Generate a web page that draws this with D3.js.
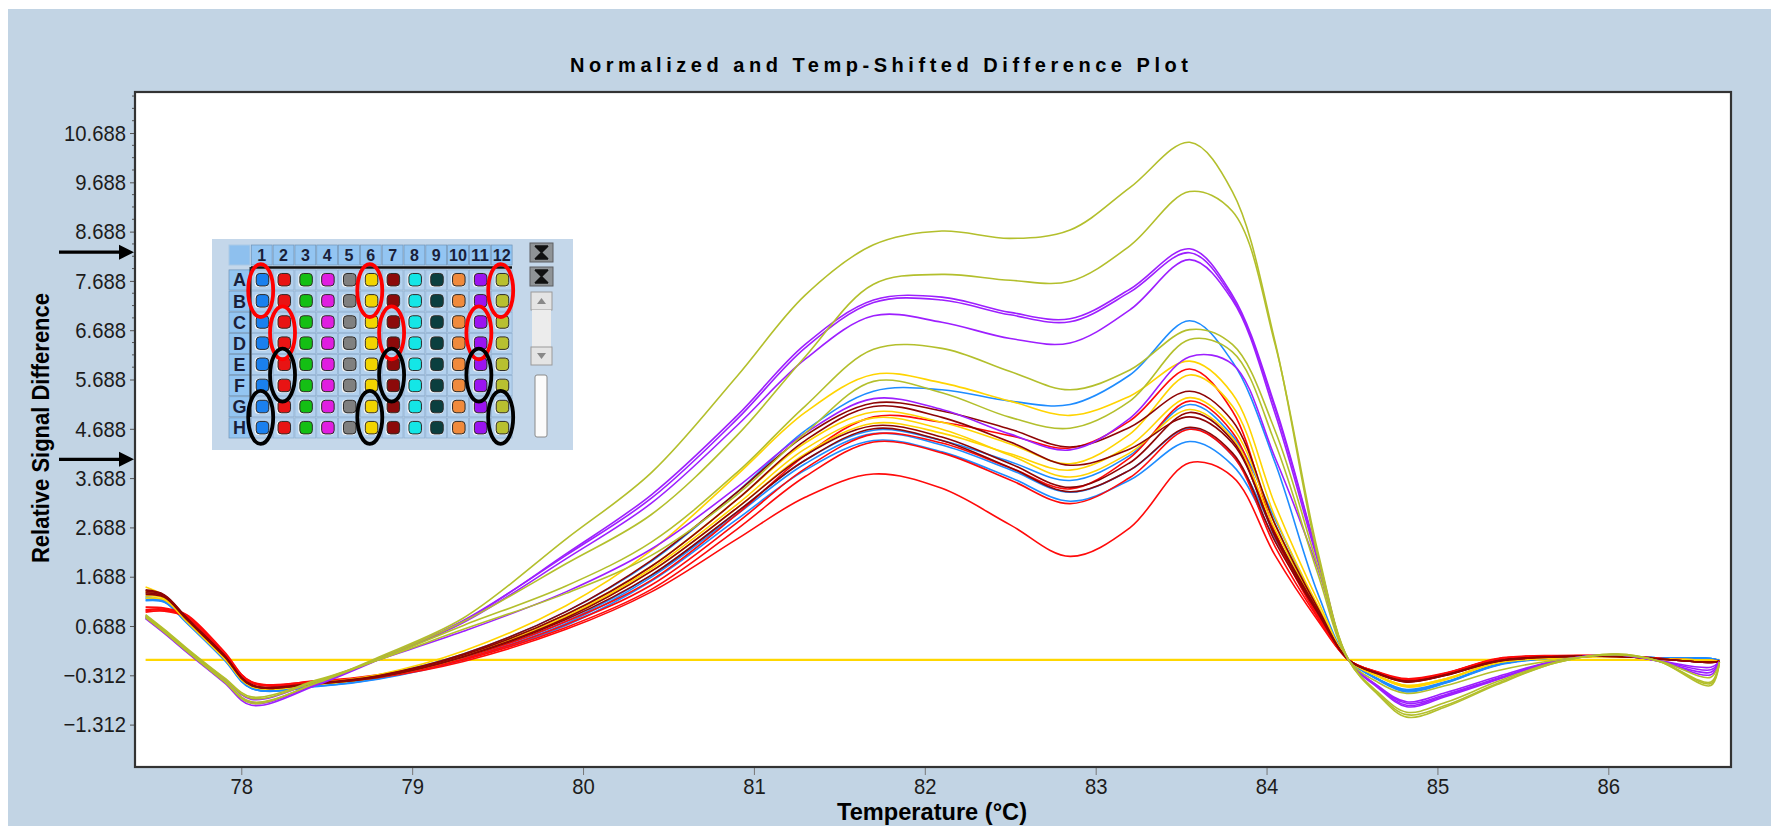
<!DOCTYPE html>
<html><head><meta charset="utf-8">
<script src="https://cdn.jsdelivr.net/npm/d3@7"></script>
<style>
html,body{margin:0;padding:0;background:#fff;}
svg{display:block;}
text{font-family:"Liberation Sans",Arial,Helvetica,sans-serif;}
</style></head><body>
<svg id="chart" width="1771" height="826"></svg>
<script>
// ---------------- DATA ----------------
const temperatureC = [77.44,77.55,77.68,77.9,78.06,78.45,78.8,79.3,79.9,80.4,80.9,81.3,81.7,82.1,82.5,82.85,83.2,83.55,83.8,84.05,84.3,84.48,84.65,84.82,85.05,85.35,85.7,86.05,86.3,86.6,86.65];

// Column 1 (blue) wells A1,B1,G1,H1
const wellA1 = [1.28,1.20,0.78,0.03,-0.56,-0.50,-0.32,0.12,0.98,2.00,3.40,4.65,5.45,5.48,5.25,5.18,5.78,6.88,6.05,4.00,1.35,0.0,-0.38,-0.62,-0.45,-0.10,0.05,0.08,0.04,0.03,-0.01];
const wellB1 = [1.25,1.19,0.77,0.02,-0.57,-0.52,-0.37,0.04,0.78,1.72,3.00,4.05,4.66,4.45,4.02,3.64,4.15,5.18,4.55,2.85,1.05,0.0,-0.38,-0.60,-0.44,-0.09,0.05,0.08,0.04,0.03,-0.01];
const wellG1 = [1.22,1.18,0.76,0.01,-0.58,-0.53,-0.38,0.02,0.74,1.68,2.95,3.98,4.59,4.36,3.86,3.40,3.85,4.70,4.15,2.55,0.98,0.0,-0.39,-0.63,-0.46,-0.10,0.05,0.08,0.04,0.03,-0.01];
const wellH1 = [1.20,1.17,0.75,0.00,-0.58,-0.54,-0.39,0.00,0.70,1.60,2.85,3.85,4.45,4.22,3.70,3.22,3.65,4.43,3.95,2.45,0.95,0.0,-0.40,-0.65,-0.47,-0.11,0.04,0.08,0.04,0.03,-0.01];
// Column 2 (red) wells C2,D2,E2,F2
const wellC2 = [1.07,1.05,0.92,0.17,-0.45,-0.42,-0.30,0.05,0.78,1.62,2.95,4.15,4.93,4.82,4.55,4.30,4.85,5.90,5.05,2.60,0.92,0.0,-0.24,-0.38,-0.26,0.03,0.09,0.08,0.03,-0.01,-0.02];
const wellD2 = [1.02,1.03,0.90,0.14,-0.44,-0.43,-0.32,0.02,0.72,1.52,2.78,3.88,4.58,4.40,3.90,3.47,4.10,5.25,4.62,2.50,0.88,0.0,-0.25,-0.40,-0.27,0.02,0.08,0.08,0.03,-0.02,-0.02];
const wellE2 = [1.00,1.01,0.88,0.12,-0.46,-0.45,-0.34,0.00,0.66,1.43,2.65,3.72,4.42,4.20,3.65,3.17,3.70,4.68,4.15,2.30,0.85,0.0,-0.26,-0.42,-0.28,0.01,0.08,0.07,0.03,-0.02,-0.02];
const wellF2 = [0.97,0.99,0.86,0.10,-0.47,-0.46,-0.36,-0.03,0.62,1.38,2.45,3.30,3.77,3.48,2.74,2.10,2.68,4.00,3.72,2.12,0.80,0.0,-0.25,-0.41,-0.27,0.02,0.08,0.08,0.03,-0.02,-0.02];
// Column 6 (yellow) wells A6,B6,G6,H6
const wellA6 = [1.48,1.30,0.82,0.06,-0.52,-0.46,-0.30,0.18,1.10,2.22,3.75,5.02,5.79,5.62,5.25,4.96,5.35,6.06,5.40,3.15,1.20,0.0,-0.32,-0.52,-0.38,-0.05,0.05,0.07,0.02,-0.01,-0.03];
const wellB6 = [1.38,1.28,0.80,0.05,-0.53,-0.48,-0.33,0.10,0.92,1.90,3.25,4.40,5.03,4.82,4.38,3.98,4.58,5.78,5.15,2.90,1.10,0.0,-0.32,-0.52,-0.38,-0.05,0.05,0.07,0.02,-0.01,-0.03];
const wellG6 = [1.30,1.25,0.79,0.04,-0.54,-0.49,-0.34,0.08,0.88,1.85,3.15,4.28,4.91,4.68,4.15,3.71,4.20,5.08,4.50,2.65,1.02,0.0,-0.33,-0.54,-0.39,-0.06,0.04,0.07,0.02,-0.01,-0.03];
const wellH6 = [1.25,1.22,0.78,0.03,-0.54,-0.49,-0.35,0.06,0.85,1.80,3.08,4.18,4.80,4.60,4.18,3.85,4.35,5.32,4.72,2.75,1.05,0.0,-0.33,-0.55,-0.40,-0.06,0.04,0.07,0.02,-0.01,-0.03];
// Column 7 (dark red) wells C7,D7,E7,F7
const wellC7 = [1.42,1.32,0.86,0.10,-0.50,-0.46,-0.32,0.12,0.98,2.02,3.40,4.55,5.21,5.05,4.68,4.32,4.72,5.45,4.85,2.75,1.05,0.0,-0.27,-0.43,-0.30,-0.02,0.07,0.07,0.02,-0.05,-0.03];
const wellD7 = [1.40,1.31,0.85,0.09,-0.51,-0.47,-0.33,0.10,0.92,1.90,3.25,4.45,5.14,4.92,4.42,3.95,4.28,4.93,4.40,2.55,1.00,0.0,-0.27,-0.44,-0.30,-0.02,0.07,0.07,0.02,-0.05,-0.03];
const wellE7 = [1.36,1.29,0.83,0.08,-0.52,-0.48,-0.35,0.06,0.82,1.72,3.00,4.05,4.69,4.45,3.90,3.41,3.85,4.72,4.20,2.40,0.95,0.0,-0.28,-0.45,-0.31,-0.03,0.06,0.07,0.02,-0.05,-0.03];
const wellF7 = [1.33,1.27,0.82,0.07,-0.52,-0.48,-0.35,0.07,0.85,1.80,3.08,4.15,4.75,4.52,3.98,3.50,4.00,5.02,4.45,2.50,0.98,0.0,-0.28,-0.44,-0.31,-0.03,0.06,0.07,0.02,-0.05,-0.03];
// Column 11 (purple) wells C11,D11,E11,F11
const wellC11 = [0.84,0.54,0.16,-0.46,-0.92,-0.50,0.00,0.78,2.15,3.35,4.95,6.40,7.30,7.36,7.05,6.92,7.52,8.34,7.40,5.15,2.10,0.0,-0.56,-0.95,-0.74,-0.40,-0.02,0.11,-0.03,-0.30,-0.04];
const wellD11 = [0.85,0.55,0.17,-0.44,-0.88,-0.48,0.02,0.80,2.12,3.28,4.88,6.33,7.25,7.30,7.00,6.86,7.46,8.26,7.35,5.10,2.08,0.0,-0.54,-0.92,-0.72,-0.39,-0.02,0.11,-0.03,-0.25,-0.04];
const wellE11 = [0.87,0.57,0.19,-0.42,-0.86,-0.47,0.02,0.76,2.05,3.18,4.75,6.10,6.98,6.85,6.52,6.43,7.10,8.12,7.30,5.00,2.00,0.0,-0.53,-0.88,-0.70,-0.37,-0.02,0.10,-0.02,-0.20,-0.04];
const wellF11 = [0.90,0.60,0.22,-0.38,-0.80,-0.42,0.00,0.58,1.38,2.25,3.50,4.60,5.30,5.08,4.58,4.26,4.90,6.15,6.00,4.10,1.85,0.0,-0.52,-0.85,-0.66,-0.34,-0.01,0.10,-0.02,-0.15,-0.04];
// Column 12 (olive) wells A12,B12,G12,H12
const wellA12 = [0.86,0.56,0.18,-0.44,-0.88,-0.45,0.05,0.85,2.45,3.80,5.75,7.40,8.42,8.70,8.55,8.72,9.58,10.50,9.50,6.45,2.10,0.0,-0.70,-1.16,-0.95,-0.50,-0.05,0.12,-0.03,-0.52,-0.05];
const wellB12 = [0.88,0.58,0.20,-0.42,-0.85,-0.46,0.02,0.78,1.95,2.95,4.55,6.15,7.62,7.82,7.70,7.68,8.40,9.50,9.10,6.40,2.20,0.0,-0.68,-1.11,-0.92,-0.48,-0.05,0.12,-0.03,-0.48,-0.05];
const wellG12 = [0.90,0.60,0.22,-0.38,-0.78,-0.42,0.00,0.70,1.50,2.39,3.80,5.15,6.30,6.32,5.85,5.48,5.88,6.70,6.40,4.65,1.90,0.0,-0.65,-1.06,-0.86,-0.44,-0.04,0.11,-0.03,-0.45,-0.05];
const wellH12 = [0.92,0.62,0.24,-0.36,-0.75,-0.40,0.00,0.62,1.35,2.12,3.35,4.60,5.65,5.42,4.92,4.70,5.25,6.50,6.25,4.40,1.75,0.0,-0.45,-0.68,-0.52,-0.22,0.00,0.10,-0.02,-0.35,-0.05];

const seriesNames = ["A1","B1","G1","H1","C2","D2","E2","F2","A6","B6","G6","H6","C7","D7","E7","F7","C11","D11","E11","F11","A12","B12","G12","H12"];
const seriesValues = [wellA1,wellB1,wellG1,wellH1,wellC2,wellD2,wellE2,wellF2,wellA6,wellB6,wellG6,wellH6,wellC7,wellD7,wellE7,wellF7,wellC11,wellD11,wellE11,wellF11,wellA12,wellB12,wellG12,wellH12];

const xTickValues = [78,79,80,81,82,83,84,85,86];
const yTickValues = [-1.312,-0.312,0.688,1.688,2.688,3.688,4.688,5.688,6.688,7.688,8.688,9.688,10.688];
const arrowLevels = [8.27, 4.07];

const plateRows = ["A","B","C","D","E","F","G","H"];
const plateCols = ["1","2","3","4","5","6","7","8","9","10","11","12"];
const columnColors = ["#1a80ee","#e81414","#14bf14","#e01ee0","#808080","#f2d400","#8c0a0a","#14e6e6","#0b3f3f","#f08a3c","#9b14f0","#b8c030"];
const redCircles = [["1","AB"],["2","CD"],["6","AB"],["7","CD"],["11","CD"],["12","AB"]];
const blackCircles = [["2","EF"],["1","GH"],["7","EF"],["6","GH"],["11","EF"],["12","GH"]];

// ---------------- STYLE / LAYOUT ----------------
const lineColors = {"1":"#1e8cff","2":"#ff0a0a","6":"#ffd400","7":"#8e0505","11":"#9d1fff","12":"#b3bf2c"};
const W = 1771, H = 826;
const P = {left:135, right:1731, top:92, bottom:767};

const svg = d3.select("#chart");
svg.append("rect").attr("x",0).attr("y",0).attr("width",W).attr("height",H).attr("fill","#ffffff");
svg.append("rect").attr("x",8).attr("y",9).attr("width",W-8).attr("height",H-9).attr("fill","#c2d4e4");
svg.append("rect").attr("x",P.left).attr("y",P.top).attr("width",P.right-P.left).attr("height",P.bottom-P.top).attr("fill","#ffffff");

const x = d3.scaleLinear().domain([77.378, 86.718]).range([P.left, P.right]);
const y = d3.scaleLinear().domain([-2.172, 11.52]).range([P.bottom, P.top]);

svg.append("defs").append("clipPath").attr("id","plotclip")
  .append("rect").attr("x",P.left).attr("y",P.top).attr("width",P.right-P.left).attr("height",P.bottom-P.top);

const plot = svg.append("g").attr("clip-path","url(#plotclip)");

// zero line
plot.append("line")
  .attr("x1",x(temperatureC[0])).attr("x2",x(temperatureC[temperatureC.length-1]))
  .attr("y1",y(0)).attr("y2",y(0))
  .attr("stroke","#ffd700").attr("stroke-width",2.4);

const line = d3.line().x((d,i)=>x(temperatureC[i])).y(d=>y(d)).curve(d3.curveCatmullRom.alpha(0.5));
seriesValues.forEach((vals,k)=>{
  const col = seriesNames[k].slice(1);
  plot.append("path").attr("d",line(vals)).attr("fill","none")
    .attr("stroke",lineColors[col]).attr("stroke-width",1.6).attr("stroke-linejoin","round");
});

// axes
function squeeze(sel, f){
  sel.each(function(){ const w=this.getComputedTextLength(); d3.select(this).attr("textLength",w*f).attr("lengthAdjust","spacingAndGlyphs"); });
}
const yAxis = d3.axisLeft(y).tickValues(yTickValues).tickSize(5).tickPadding(4).tickFormat(d3.format(".3f"));
const gy = svg.append("g").attr("transform",`translate(${P.left},0)`).call(yAxis);
gy.select(".domain").remove();
gy.selectAll(".tick line").attr("stroke","#555");
gy.selectAll(".tick text").attr("font-size",22.5).attr("fill","#1c1c1c").attr("font-family",'"Liberation Sans",Arial,sans-serif');
squeeze(gy.selectAll(".tick text"), 0.9);

// minor y ticks every 0.25
const minor = d3.range(-8,20).map(k=>10.688-k*0.25).filter(v=>v>-2.17&&v<11.5&&Math.abs(((10.688-v)%1))>0.01);
svg.append("g").selectAll("line").data(minor).join("line")
  .attr("x1",P.left-3).attr("x2",P.left).attr("y1",d=>y(d)).attr("y2",d=>y(d))
  .attr("stroke","#555").attr("stroke-width",1);

const xAxis = d3.axisBottom(x).tickValues(xTickValues).tickSize(8).tickPadding(3).tickFormat(d3.format("d"));
const gx = svg.append("g").attr("transform",`translate(0,${P.bottom})`).call(xAxis);
gx.select(".domain").remove();
gx.selectAll(".tick line").attr("stroke","#777");
gx.selectAll(".tick text").attr("font-size",22.5).attr("fill","#1c1c1c").attr("font-family",'"Liberation Sans",Arial,sans-serif');
squeeze(gx.selectAll(".tick text"), 0.9);

// frame
svg.append("rect").attr("x",P.left).attr("y",P.top).attr("width",P.right-P.left).attr("height",P.bottom-P.top)
  .attr("fill","none").attr("stroke","#333").attr("stroke-width",2.2);

// titles
svg.append("text").attr("x",570).attr("y",72).attr("font-size",20).attr("font-weight","bold")
  .attr("textLength",618).attr("lengthAdjust","spacing").attr("fill","#000")
  .text("Normalized and Temp-Shifted Difference Plot");
svg.append("text").attr("x",932).attr("y",820).attr("text-anchor","middle").attr("font-size",24).attr("font-weight","bold")
  .attr("textLength",190).attr("lengthAdjust","spacingAndGlyphs").attr("fill","#000")
  .text("Temperature (°C)");
svg.append("text").attr("transform","translate(49,428) rotate(-90)").attr("text-anchor","middle")
  .attr("font-size",23).attr("font-weight","bold").attr("textLength",270).attr("lengthAdjust","spacingAndGlyphs").attr("fill","#000")
  .text("Relative Signal Difference");

// arrows
arrowLevels.forEach(v=>{
  const yy = y(v);
  svg.append("line").attr("x1",59).attr("x2",121).attr("y1",yy).attr("y2",yy).attr("stroke","#000").attr("stroke-width",3.2);
  svg.append("path").attr("d",`M${119},${yy-7.5} L${134},${yy} L${119},${yy+7.5} Z`).attr("fill","#000");
});

// ---------------- PLATE INSET ----------------
const plate = svg.append("g");
plate.append("rect").attr("x",212).attr("y",239).attr("width",361).attr("height",211).attr("fill","#c4d7ea");
const colX = d3.scaleBand().domain(plateCols).range([250.8, 512.6]);
const rowY = d3.scaleBand().domain(plateRows).range([269.4, 438.5]);
plate.append("rect").attr("x",229).attr("y",245).attr("width",21).attr("height",20).attr("fill","#8ec0ee").attr("stroke","#a9c9e6");
plateCols.forEach(c=>{
  plate.append("rect").attr("x",colX(c)+0.5).attr("y",245).attr("width",colX.bandwidth()-1).attr("height",20)
    .attr("fill","#93c5f2").attr("stroke","#6f94b8").attr("stroke-width",0.7);
  const t = plate.append("text").attr("x",colX(c)+colX.bandwidth()/2).attr("y",261).attr("text-anchor","middle")
    .attr("font-size",16).attr("font-weight","bold").attr("fill","#1a1f3a").text(c);
  if (c.length>1) t.attr("textLength",18).attr("lengthAdjust","spacingAndGlyphs");
});
plateRows.forEach(r=>{
  plate.append("rect").attr("x",229).attr("y",rowY(r)+0.5).attr("width",21).attr("height",rowY.bandwidth()-1)
    .attr("fill","#93c5f2").attr("stroke","#6f94b8").attr("stroke-width",0.7);
  plate.append("text").attr("x",239.5).attr("y",rowY(r)+rowY.bandwidth()/2+6.5).attr("text-anchor","middle")
    .attr("font-size",18).attr("font-weight","bold").attr("fill","#1a1f3a").text(r);
  plateCols.forEach((c,ci)=>{
    plate.append("rect").attr("x",colX(c)+0.5).attr("y",rowY(r)+0.5).attr("width",colX.bandwidth()-1).attr("height",rowY.bandwidth()-1)
      .attr("fill","#b3d1ee").attr("stroke","#8eaecf").attr("stroke-width",0.7);
    const cx = colX(c)+colX.bandwidth()/2, cy = rowY(r)+rowY.bandwidth()/2;
    plate.append("rect").attr("x",cx-7).attr("y",cy-7).attr("width",14).attr("height",14).attr("rx",3.5)
      .attr("fill","#f4f4f4");
    plate.append("rect").attr("x",cx-5.5).attr("y",cy-6.5).attr("width",12.5).attr("height",12.5).attr("rx",3.5)
      .attr("fill",columnColors[ci]).attr("stroke","#2a2a2a").attr("stroke-width",1);
  });
});
plate.append("line").attr("x1",251).attr("x2",512).attr("y1",267.5).attr("y2",267.5).attr("stroke","#111").attr("stroke-width",2.5);
plate.append("line").attr("x1",250.5).attr("x2",250.5).attr("y1",267).attr("y2",417).attr("stroke","#222").attr("stroke-width",2);

// scroll widget
const sx = 530;
[[243,19],[267,19]].forEach(([yy,h])=>{
  plate.append("rect").attr("x",sx).attr("y",yy).attr("width",23).attr("height",h).attr("fill","#8f9396").attr("stroke","#5c5f62");
  plate.append("path").attr("d",`M${sx+5},${yy+3} h13 M${sx+6},${yy+4} L${sx+11.5},${yy+h/2} L${sx+17},${yy+4} Z M${sx+6},${yy+h-4} L${sx+11.5},${yy+h/2} L${sx+17},${yy+h-4} Z M${sx+5},${yy+h-3} h13`)
    .attr("fill","#111").attr("stroke","#111").attr("stroke-width",1.5);
});
plate.append("rect").attr("x",sx+1).attr("y",292).attr("width",21).attr("height",18).attr("fill","#e4e4e4").attr("stroke","#9a9a9a");
plate.append("path").attr("d",`M${sx+7},${304} L${sx+11.5},${298} L${sx+16},${304} Z`).attr("fill","#888");
plate.append("rect").attr("x",sx+2).attr("y",310).attr("width",19).attr("height",37).attr("fill","#ececec");
plate.append("rect").attr("x",sx+1).attr("y",347).attr("width",21).attr("height",18).attr("fill","#e4e4e4").attr("stroke","#9a9a9a");
plate.append("path").attr("d",`M${sx+7},${353} L${sx+11.5},${359} L${sx+16},${353} Z`).attr("fill","#888");
plate.append("rect").attr("x",sx+5).attr("y",375).attr("width",12).attr("height",62).attr("rx",2).attr("fill","#fbfbfb").attr("stroke","#8a8a8a");

function drawCircle(spec, color){
  const c = spec[0], rows = spec[1].split("");
  const cx = colX(c)+colX.bandwidth()/2 - 1;
  const cy = (rowY(rows[0]) + rowY(rows[1]) + rowY.bandwidth())/2;
  plate.append("ellipse").attr("cx",cx).attr("cy",cy).attr("rx",12.5).attr("ry",26.5)
    .attr("fill","none").attr("stroke",color).attr("stroke-width",3.8);
}
redCircles.forEach(s=>drawCircle(s,"#ff0000"));
blackCircles.forEach(s=>drawCircle(s,"#000000"));
</script>
</body></html>
